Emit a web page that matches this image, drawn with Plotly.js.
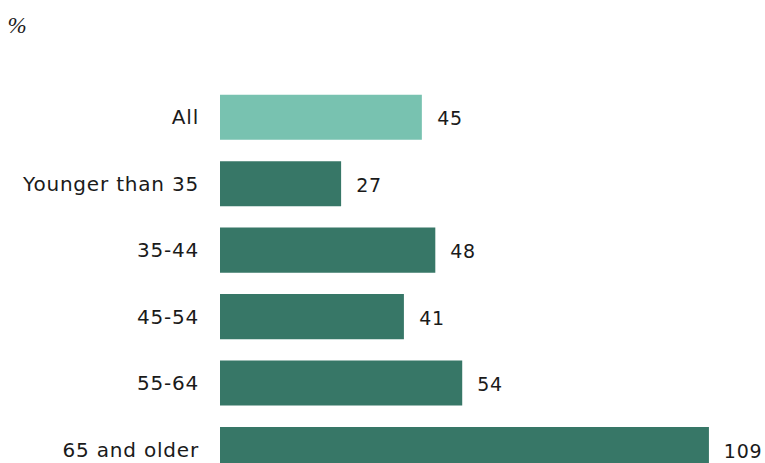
<!DOCTYPE html>
<html>
<head>
<meta charset="utf-8">
<script src="https://cdn.plot.ly/plotly-3.0.1.min.js"></script>
<style>
  html, body { margin: 0; padding: 0; background: #fff; }
  #chart { width: 765px; height: 463px; }
  #chart svg text { letter-spacing: 0.8px; }
</style>
</head>
<body>
<div id="chart"></div>
<script>
const categories = ["All", "Younger than 35", "35-44", "45-54", "55-64", "65 and older"];
const values = [45, 27, 48, 41, 54, 109];
const barColors = ["#78c2b0", "#377767", "#377767", "#377767", "#377767", "#377767"];
const unitLabel = "%";

const FONT = "DejaVu Sans, Verdana, sans-serif";

const trace = {
  type: "bar",
  orientation: "h",
  x: values,
  y: categories,
  marker: { color: barColors, line: { width: 0 } },
  width: 0.678,
  hoverinfo: "none"
};

const annotations = values.map((v, i) => ({
  x: v,
  y: categories[i],
  xref: "x",
  yref: "y",
  text: String(v),
  showarrow: false,
  xanchor: "left",
  yanchor: "middle",
  xshift: 14,
  yshift: -1,
  font: { family: FONT, size: 19, color: "#1a1a1a" }
}));

annotations.push({
  xref: "paper",
  yref: "paper",
  x: -220 / 545,
  y: 1,
  xanchor: "left",
  yanchor: "bottom",
  yshift: 44,
  xshift: 6,
  text: unitLabel,
  showarrow: false,
  font: { family: "Liberation Serif, Times New Roman, serif", size: 23, style: "italic", color: "#1a1a1a" }
});

const layout = {
  width: 765,
  height: 463,
  margin: { l: 220, r: 0, t: 84.3, b: 0, pad: 0 },
  paper_bgcolor: "#ffffff",
  plot_bgcolor: "#ffffff",
  showlegend: false,
  xaxis: {
    range: [0, 121.5],
    showgrid: false,
    zeroline: false,
    showline: false,
    showticklabels: false,
    ticks: ""
  },
  yaxis: {
    type: "category",
    range: [5.203, -0.5],
    showgrid: false,
    zeroline: false,
    showline: false,
    ticks: "",
    ticklabelstandoff: 20,
    tickfont: { family: FONT, size: 20, color: "#1a1a1a" }
  },
  annotations: annotations
};

Plotly.newPlot("chart", [trace], layout, { displayModeBar: false, staticPlot: true });
</script>
</body>
</html>
